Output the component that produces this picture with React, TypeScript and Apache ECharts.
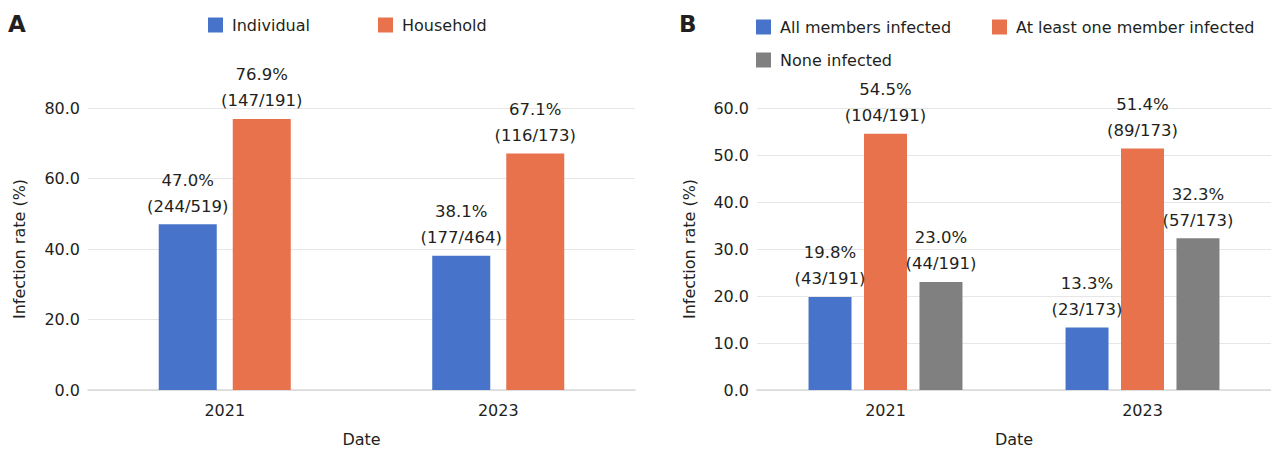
import React, { useEffect, useRef } from "react";
import * as echarts from "echarts";

const years = ["2021", "2023"];

const aIndividual = [47.0, 38.1];
const aIndividualN = ["244/519", "177/464"];
const aHousehold = [76.9, 67.1];
const aHouseholdN = ["147/191", "116/173"];

const bAll = [19.8, 13.3];
const bAllN = ["43/191", "23/173"];
const bAtLeast = [54.5, 51.4];
const bAtLeastN = ["104/191", "89/173"];
const bNone = [23.0, 32.3];
const bNoneN = ["44/191", "57/173"];

const aTicks = { min: 0, max: 80, interval: 20 };
const bTicks = { min: 0, max: 60, interval: 10 };

const BLUE = "#4774CA";
const ORANGE = "#E8724C";
const GRAY = "#808080";
const TEXT = "#231f20";
const FONT = "DejaVu Sans";

export default function App() {
  const ref = useRef<HTMLDivElement>(null);
  useEffect(() => {
    if (!ref.current) return;
    const chart = echarts.init(ref.current, undefined, { renderer: "svg" });

    const label = (fr: string[]) => ({
      show: true,
      position: "top",
      distance: 5,
      color: TEXT,
      fontFamily: FONT,
      fontSize: 16.5,
      lineHeight: 26,
      formatter: (p: any) => `${Number(p.value).toFixed(1)}%\n(${fr[p.dataIndex]})`,
    });

    const xAxisBase = (gridIndex: number) => ({
      type: "category",
      gridIndex,
      data: years,
      name: "Date",
      nameLocation: "middle",
      nameGap: 41,
      nameTextStyle: { color: TEXT, fontFamily: FONT, fontSize: 16 },
      axisLine: { show: true, lineStyle: { color: "#d9d9d9", width: 1.5 } },
      axisTick: { show: false },
      axisLabel: { color: TEXT, fontFamily: FONT, fontSize: 16, margin: 12 },
    });

    const yAxisBase = (gridIndex: number, t: { min: number; max: number; interval: number }) => ({
      type: "value",
      gridIndex,
      min: t.min,
      max: t.max,
      interval: t.interval,
      name: "Infection rate (%)",
      nameLocation: "middle",
      nameGap: 61,
      nameTextStyle: { color: TEXT, fontFamily: FONT, fontSize: 16 },
      axisLine: { show: false },
      axisTick: { show: false },
      axisLabel: {
        color: TEXT,
        fontFamily: FONT,
        fontSize: 16,
        margin: 8,
        formatter: (v: number) => v.toFixed(1),
      },
      splitLine: { show: true, lineStyle: { color: "#e6e6e6", width: 1 } },
    });

    const legendItem = (name: string, left: number, top: number) => ({
      show: true,
      left,
      top,
      padding: 0,
      orient: "horizontal",
      itemWidth: 15,
      itemHeight: 15,
      icon: "rect",
      data: [name],
      textStyle: { color: TEXT, fontFamily: FONT, fontSize: 16, padding: [0, 0, 0, 4] },
    });

    chart.setOption({
      animation: false,
      backgroundColor: "#ffffff",
      title: [
        { text: "A", left: 8, top: 12, padding: 0, textStyle: { fontFamily: FONT, fontSize: 23, fontWeight: "bold", color: TEXT } },
        { text: "B", left: 679, top: 12, padding: 0, textStyle: { fontFamily: FONT, fontSize: 23, fontWeight: "bold", color: TEXT } },
      ],
      legend: [
        legendItem("Individual", 208, 17),
        legendItem("Household", 378, 17),
        legendItem("All members infected", 756, 19),
        legendItem("At least one member infected", 992, 19),
        legendItem("None infected", 756, 52),
      ],
      grid: [
        { left: 88, width: 547, top: 108, height: 283 },
        { left: 757, width: 519, top: 108, height: 283 },
      ],
      xAxis: [xAxisBase(0), xAxisBase(1)],
      yAxis: [yAxisBase(0, aTicks), { ...yAxisBase(1, bTicks), nameGap: 60 }],
      series: [
        {
          name: "Individual",
          type: "bar",
          xAxisIndex: 0,
          yAxisIndex: 0,
          data: aIndividual,
          barWidth: 58,
          barGap: "27.6%",
          itemStyle: { color: BLUE },
          label: label(aIndividualN),
        },
        {
          name: "Household",
          type: "bar",
          xAxisIndex: 0,
          yAxisIndex: 0,
          data: aHousehold,
          barWidth: 58,
          barGap: "27.6%",
          itemStyle: { color: ORANGE },
          label: label(aHouseholdN),
        },
        {
          name: "All members infected",
          type: "bar",
          xAxisIndex: 1,
          yAxisIndex: 1,
          data: bAll,
          barWidth: 43,
          barGap: "29%",
          itemStyle: { color: BLUE },
          label: label(bAllN),
        },
        {
          name: "At least one member infected",
          type: "bar",
          xAxisIndex: 1,
          yAxisIndex: 1,
          data: bAtLeast,
          barWidth: 43,
          barGap: "29%",
          itemStyle: { color: ORANGE },
          label: label(bAtLeastN),
        },
        {
          name: "None infected",
          type: "bar",
          xAxisIndex: 1,
          yAxisIndex: 1,
          data: bNone,
          barWidth: 43,
          barGap: "29%",
          itemStyle: { color: GRAY },
          label: label(bNoneN),
        },
      ],
    });
    return () => chart.dispose();
  }, []);

  return (
    <div
      ref={ref}
      style={{ position: "fixed", left: 0, top: 0, width: 1271, height: 452, background: "#fff" }}
    />
  );
}
